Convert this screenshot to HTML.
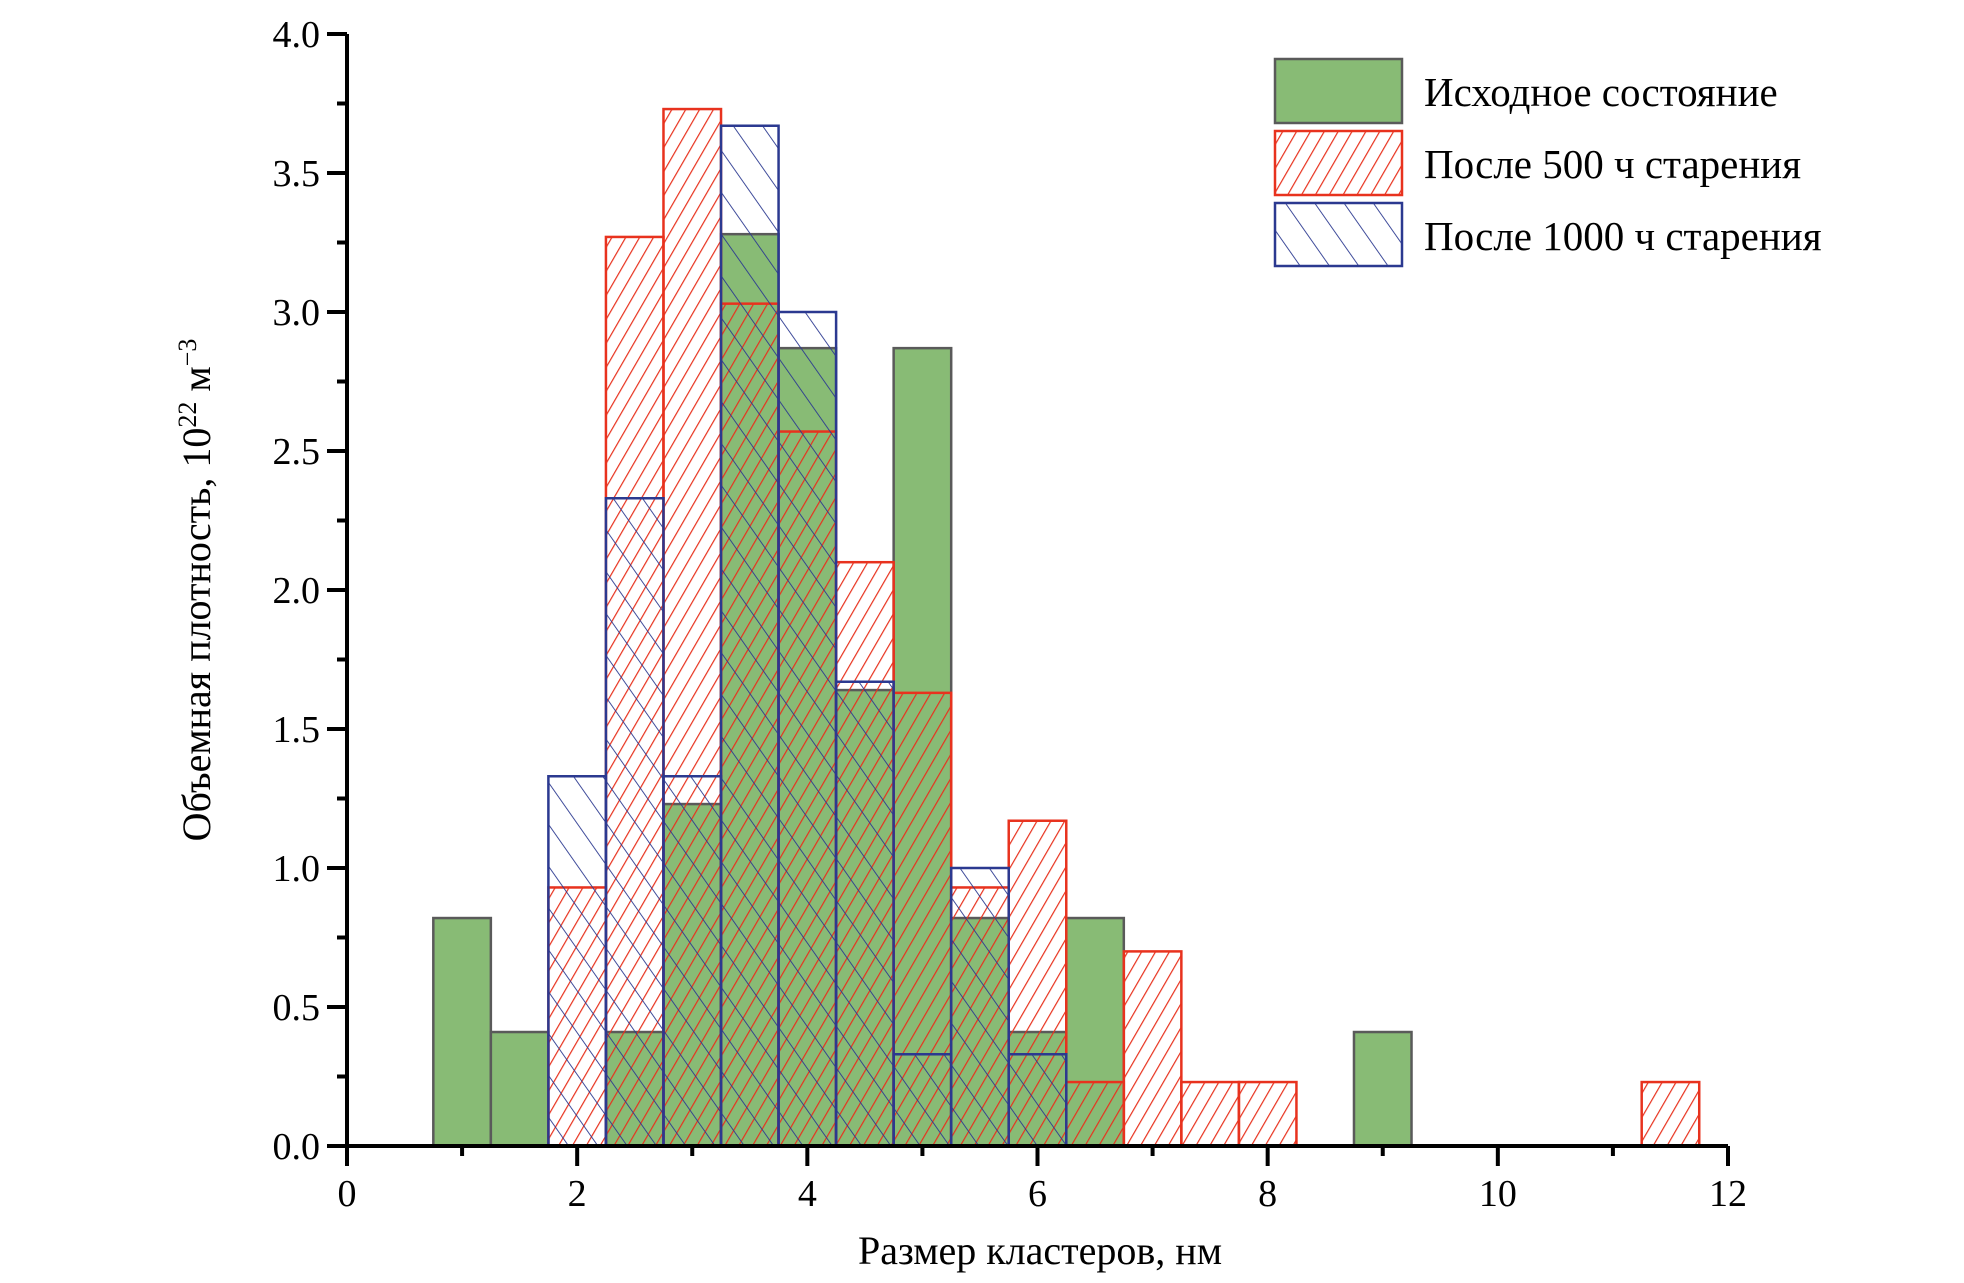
<!DOCTYPE html>
<html><head><meta charset="utf-8"><style>
html,body{margin:0;padding:0;background:#fff;}
svg{display:block;}
svg text{font-family:"Liberation Serif","Times New Roman",serif;}
</style></head><body>
<svg id="chart" width="1964" height="1283" xmlns="http://www.w3.org/2000/svg">
<defs>
<pattern id="redHatch" patternUnits="userSpaceOnUse" width="12" height="12" patternTransform="rotate(30)">
<line x1="0" y1="0" x2="0" y2="12" stroke="#e8321e" stroke-width="2.4"/>
</pattern>
<pattern id="blueHatch" patternUnits="userSpaceOnUse" width="24" height="24" patternTransform="rotate(-35)">
<line x1="0" y1="0" x2="0" y2="24" stroke="#2b3990" stroke-width="1.8"/>
</pattern>
</defs>
<g id="bars"></g>
<g id="axes"></g>
<g>
<rect x="1275" y="59" width="127" height="64" fill="#88bb75" stroke="#5a5a5a" stroke-width="2.5"/>
<text x="1424" y="106" font-size="41">Исходное состояние</text>
<rect x="1275" y="131" width="127" height="64" fill="url(#redHatch)" stroke="#e8321e" stroke-width="2.5"/>
<text x="1424" y="178" font-size="41">После 500 ч старения</text>
<rect x="1275" y="203" width="127" height="63" fill="url(#blueHatch)" stroke="#2b3990" stroke-width="2.5"/>
<text x="1424" y="250" font-size="41">После 1000 ч старения</text>
</g>
<text x="1040" y="1264" font-size="40" text-anchor="middle">Размер кластеров, нм</text>
<text transform="translate(210,590) rotate(-90)" font-size="40" text-anchor="middle">Объемная плотность, 10<tspan font-size="26" dy="-14">22</tspan><tspan dy="14"> м</tspan><tspan font-size="26" dy="-14">−3</tspan></text>
</svg>
<script>
const greenX=[1,1.5,2.5,3,3.5,4,4.5,5,5.5,6,6.5,9];
const greenY=[0.82,0.41,0.41,1.23,3.28,2.87,1.64,2.87,0.82,0.41,0.82,0.41];
const redX=[2,2.5,3,3.5,4,4.5,5,5.5,6,6.5,7,7.5,8,11.5];
const redY=[0.93,3.27,3.73,3.03,2.57,2.1,1.63,0.93,1.17,0.23,0.7,0.23,0.23,0.23];
const blueX=[2,2.5,3,3.5,4,4.5,5,5.5,6];
const blueY=[1.33,2.33,1.33,3.67,3.0,1.67,0.33,1.0,0.33];
const xTicks=[0,2,4,6,8,10,12];
const yTicks=[0,0.5,1,1.5,2,2.5,3,3.5,4];
const binW=0.5;
const NS="http://www.w3.org/2000/svg";
const X0=347,X1=1728,Y0=1146,Y1=34;
function sx(v){return X0+(v/12)*(X1-X0);}
function sy(v){return Y0-(v/4)*(Y0-Y1);}
const bars=document.getElementById('bars');
const axes=document.getElementById('axes');
function mk(tag,attrs,parent){const e=document.createElementNS(NS,tag);for(const k in attrs)e.setAttribute(k,attrs[k]);parent.appendChild(e);return e;}
function drawSeries(xs,ys,fill,stroke,name){
  xs.forEach((c,i)=>{
    const r=mk('rect',{x:sx(c-binW/2),y:sy(ys[i]),width:sx(c+binW/2)-sx(c-binW/2),height:sy(0)-sy(ys[i]),fill:fill,stroke:stroke,'stroke-width':2.5},bars);
    
    
  });
}
drawSeries(greenX,greenY,'#88bb75','#5a5a5a','initial');
drawSeries(redX,redY,'url(#redHatch)','#e8321e','aged-500h');
drawSeries(blueX,blueY,'url(#blueHatch)','#2b3990','aged-1000h');
const ya=mk('line',{x1:X0,y1:Y1,x2:X0,y2:Y0,stroke:'#000','stroke-width':4},axes);


const xa=mk('line',{x1:X0-20,y1:Y0,x2:X1,y2:Y0,stroke:'#000','stroke-width':4},axes);


yTicks.forEach(v=>{
  mk('line',{x1:X0-20,y1:sy(v),x2:X0,y2:sy(v),stroke:'#000','stroke-width':4},axes);
  if(v<4) mk('line',{x1:X0-10,y1:sy(v+0.25),x2:X0,y2:sy(v+0.25),stroke:'#000','stroke-width':4},axes);
  const t=mk('text',{x:X0-27,y:sy(v)+13,'font-size':38,'text-anchor':'end'},axes);
  t.textContent=v.toFixed(1);
  
  
});
xTicks.forEach(v=>{
  mk('line',{x1:sx(v),y1:Y0,x2:sx(v),y2:Y0+20,stroke:'#000','stroke-width':4},axes);
  if(v<12) mk('line',{x1:sx(v+1),y1:Y0,x2:sx(v+1),y2:Y0+10,stroke:'#000','stroke-width':4},axes);
  const t=mk('text',{x:sx(v),y:Y0+60,'font-size':38,'text-anchor':'middle'},axes);
  t.textContent=String(v);
  
  
});
</script>
</body></html>
